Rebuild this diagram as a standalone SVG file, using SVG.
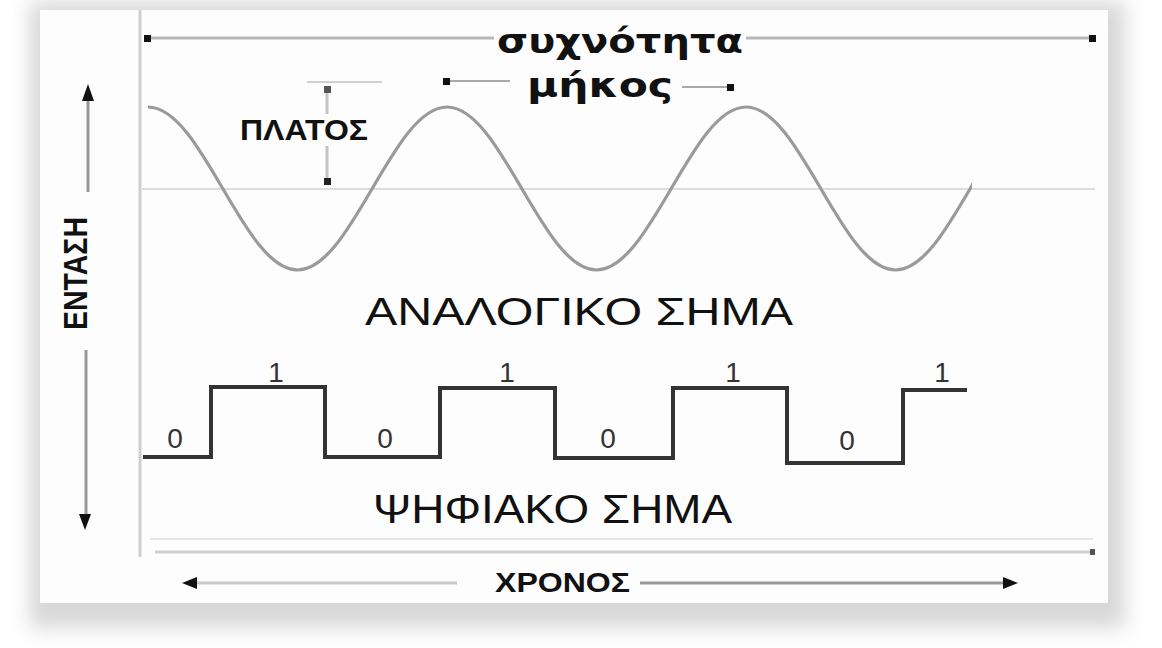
<svg xmlns="http://www.w3.org/2000/svg" width="1162" height="648" viewBox="0 0 1162 648">
  <defs>
    <filter id="sh" x="-10%" y="-10%" width="120%" height="125%">
      <feGaussianBlur stdDeviation="10"/>
    </filter>
    <clipPath id="wclip"><rect x="140" y="90" width="832" height="200"/></clipPath>
    <style>
      .frame{stroke:#cfcfcf;stroke-width:3;fill:none}
      .faint{stroke:#e6e6e6;stroke-width:2;fill:none}
      .dim{stroke:#b8b8b8;stroke-width:3;fill:none}
      .arr{stroke:#999;stroke-width:3;fill:none}
      .head{fill:#111}
      .wave{stroke:#9a9a9a;stroke-width:3.2;fill:none}
      .dig{stroke:#333;stroke-width:4;fill:none;stroke-linejoin:miter}
      .t{font-family:"Liberation Sans",Arial,sans-serif;fill:#111}
      .tb{font-family:"Liberation Sans",Arial,sans-serif;font-weight:bold;fill:#111}
      .tg{font-family:"DejaVu Sans","Liberation Sans",sans-serif;font-weight:bold;fill:#111}
      .bit{font-family:"Liberation Sans",Arial,sans-serif;fill:#333;font-size:28px;text-anchor:middle}
    </style>
  </defs>

  <!-- background and panel -->
  <rect x="0" y="0" width="1162" height="648" fill="#ffffff"/>
  <rect x="30" y="2" width="1095" height="626" fill="#a0a0a0" opacity="0.42" filter="url(#sh)"/>
  <rect x="40" y="10" width="1068" height="593" fill="#fdfdfd"/>

  <!-- frame lines -->
  <g id="frame">
    <line class="frame" x1="140" y1="10" x2="140" y2="557"/>
    <line class="faint" x1="150" y1="539" x2="1093" y2="539"/>
    <line class="frame" x1="155" y1="552" x2="1093" y2="552"/>
    <rect x="1090" y="549" width="5" height="6" fill="#555"/>
    <line class="faint" x1="140" y1="189" x2="1095" y2="189" style="stroke:#dcdcdc"/>
  </g>

  <!-- analog signal -->
  <g id="analog-wave">
    <path class="wave" clip-path="url(#wclip)" d="M148,107 C202.4,107 243.1,270 297.5,270 C351.9,270 392.6,107 447,107 C501.4,107 542.1,270 596.5,270 C650.9,270 691.6,107 746,107 C800.4,107 841.1,270 895.5,270 C949.9,270 990.6,107 1045,107"/>
  </g>

  <!-- digital signal -->
  <g id="digital-wave">
    <path class="dig" d="M143,457 H211 V387 H325 V457 H440 V388 H555 V458 H673 V388 H787 V463 H903 V390 H967"/>
    <text class="bit" x="175" y="448">0</text>
    <text class="bit" x="276" y="382">1</text>
    <text class="bit" x="385" y="448">0</text>
    <text class="bit" x="507" y="382">1</text>
    <text class="bit" x="608" y="448">0</text>
    <text class="bit" x="733" y="382">1</text>
    <text class="bit" x="847" y="450">0</text>
    <text class="bit" x="942" y="382">1</text>
  </g>

  <!-- connectors / dimension arrows -->
  <g id="connectors">
    <!-- frequency line -->
    <line class="dim" x1="148" y1="38" x2="1092" y2="38"/>
    <rect x="144" y="35" width="7" height="7" class="head"/>
    <rect x="1089" y="35" width="7" height="7" class="head"/>
    <!-- wavelength -->
    <line class="arr" x1="447" y1="81" x2="510" y2="81" style="stroke:#aaa;stroke-width:2"/>
    <rect x="443" y="78" width="7" height="7" class="head"/>
    <line class="arr" x1="682" y1="87" x2="730" y2="87" style="stroke:#aaa;stroke-width:2"/>
    <rect x="727" y="84" width="7" height="7" class="head"/>
    <!-- amplitude -->
    <line class="faint" x1="307" y1="82" x2="382" y2="82" style="stroke:#d0d0d0"/>
    <line class="arr" x1="327" y1="88" x2="327" y2="114" style="stroke:#c4c4c4"/>
    <line class="arr" x1="327" y1="146" x2="327" y2="182" style="stroke:#c4c4c4"/>
    <rect x="324" y="86" width="7" height="7" fill="#555"/>
    <rect x="324" y="178" width="7" height="7" fill="#222"/>
    <!-- intensity arrow -->
    <line class="arr" x1="88" y1="98" x2="88" y2="192"/>
    <line class="arr" x1="86" y1="350" x2="86" y2="516"/>
    <polygon class="head" points="88,84 82,101 94,101"/>
    <polygon class="head" points="85,530 79,514 91,514"/>
    <!-- time arrow -->
    <line class="arr" x1="196" y1="583" x2="457" y2="583" style="stroke:#c8c8c8"/>
    <line class="arr" x1="640" y1="583" x2="1004" y2="583"/>
    <polygon class="head" points="182,583 197,577 197,589"/>
    <polygon class="head" points="1018,583 1003,577 1003,589"/>
  </g>

  <!-- labels -->
  <g id="label-frequency">
    <rect x="494" y="20" width="252" height="36" fill="#fdfdfd"/>
    <text class="tg" x="497" y="53" font-size="33" textLength="246" lengthAdjust="spacingAndGlyphs">συχνότητα</text>
  </g>
  <g id="label-wavelength">
    <text class="tg" x="527" y="97" font-size="34" textLength="146" lengthAdjust="spacingAndGlyphs">μήκος</text>
  </g>
  <g id="label-amplitude">
    <text class="tb" x="240" y="140" font-size="30" textLength="128" lengthAdjust="spacingAndGlyphs">ΠΛΑΤΟΣ</text>
  </g>
  <g id="label-intensity">
    <text class="tb" transform="translate(87,330) rotate(-90)" x="0" y="0" font-size="33" textLength="113" lengthAdjust="spacingAndGlyphs">ΕΝΤΑΣΗ</text>
  </g>
  <g id="label-analog">
    <text class="t" x="365" y="325" font-size="39" textLength="428" lengthAdjust="spacingAndGlyphs">ΑΝΑΛΟΓΙΚΟ ΣΗΜΑ</text>
  </g>
  <g id="label-digital">
    <text class="t" x="373" y="523" font-size="41" textLength="359" lengthAdjust="spacingAndGlyphs">ΨΗΦΙΑΚΟ ΣΗΜΑ</text>
  </g>
  <g id="label-time">
    <text class="tb" x="495" y="592" font-size="27" textLength="135" lengthAdjust="spacingAndGlyphs">ΧΡΟΝΟΣ</text>
  </g>
</svg>
